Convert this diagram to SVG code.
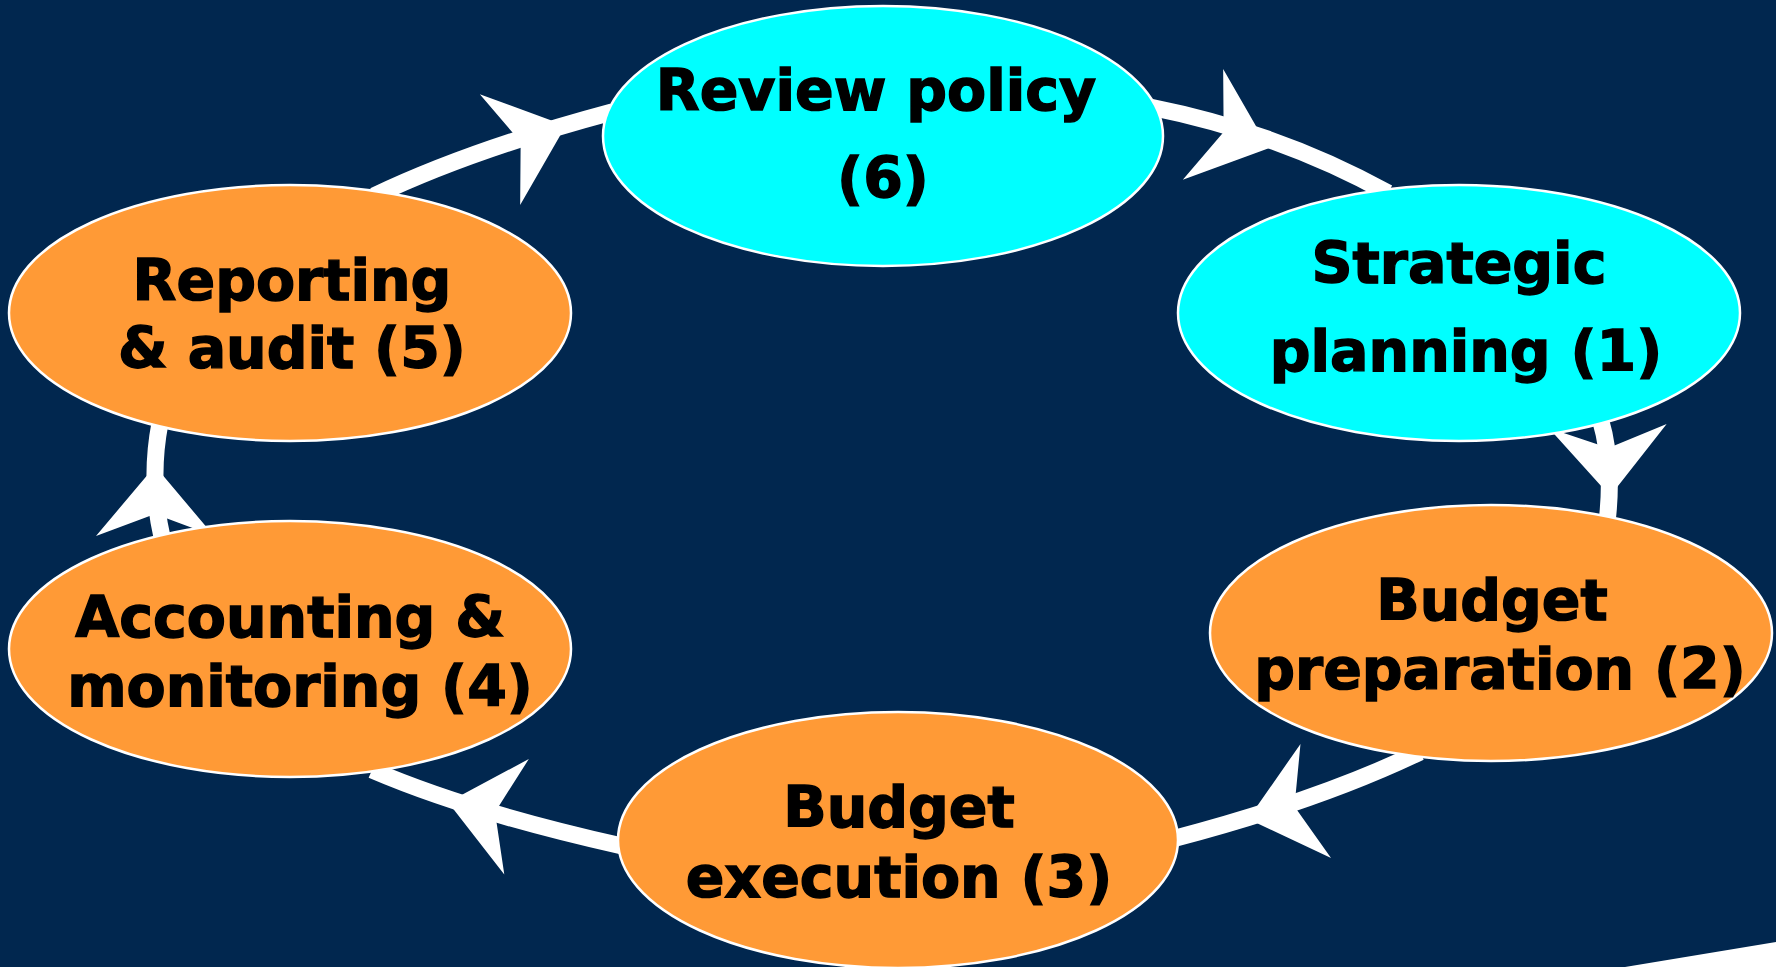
<svg xmlns="http://www.w3.org/2000/svg" xmlns:xlink="http://www.w3.org/1999/xlink" width="1776" height="967" viewBox="0 0 1776 967">
<defs>
<style>
.bg{fill:#01274f}
.conn{fill:none;stroke:#ffffff;stroke-width:17}
.head{fill:#ffffff}
.cyan{fill:#00ffff;stroke:#ffffff;stroke-width:2.5}
.orange{fill:#ff9a36;stroke:#ffffff;stroke-width:2.5}
.lbl{font-family:"DejaVu Sans",Verdana,sans-serif;font-weight:bold;font-size:57px;fill:#000000;stroke:#000000;stroke-width:1.4;text-anchor:middle}
</style>
<polygon id="ah" class="head" points="4,0 -66,-59 -44,0 -66,59"/>
</defs>
<rect class="bg" x="0" y="0" width="1776" height="967"/>
<polygon points="1625,967 1776,942 1776,967" fill="#ffffff"/>
<g id="connectors">
<path class="conn" d="M1150,107 Q1280,133 1388,193"/>
<use xlink:href="#ah" transform="translate(1265,147) rotate(20)"/>
<path class="conn" d="M1600,418 Q1614,465 1607,522"/>
<use xlink:href="#ah" transform="translate(1610,492) rotate(88)"/>
<path class="conn" d="M1420,752 Q1320,800 1176,838"/>
<use xlink:href="#ah" transform="translate(1252,818) rotate(165)"/>
<path class="conn" d="M622,846 Q470,812 372,770"/>
<use xlink:href="#ah" transform="translate(452,803) rotate(-168)"/>
<path class="conn" d="M162,537 Q149,480 160,423"/>
<use xlink:href="#ah" transform="translate(155,470) rotate(-90)"/>
<path class="conn" d="M374,196 Q470,150 612,112"/>
<use xlink:href="#ah" transform="translate(562,127) rotate(-20)"/>
</g>
<g id="node6">
<ellipse class="cyan" cx="883" cy="136" rx="280" ry="130"/>
<text class="lbl" x="876" y="110">Review policy</text>
<text class="lbl" x="883" y="198">(6)</text>
</g>
<g id="node1">
<ellipse class="cyan" cx="1459" cy="313" rx="281" ry="128"/>
<text class="lbl" x="1459" y="283">Strategic</text>
<text class="lbl" x="1466" y="371">planning (1)</text>
</g>
<g id="node2">
<ellipse class="orange" cx="1491" cy="633" rx="281" ry="128"/>
<text class="lbl" x="1492" y="620">Budget</text>
<text class="lbl" x="1500" y="689">preparation (2)</text>
</g>
<g id="node3">
<ellipse class="orange" cx="898" cy="840" rx="280" ry="128"/>
<text class="lbl" x="899" y="827">Budget</text>
<text class="lbl" x="899" y="897">execution (3)</text>
</g>
<g id="node4">
<ellipse class="orange" cx="290" cy="649" rx="281" ry="128"/>
<text class="lbl" x="290" y="637">Accounting &amp;</text>
<text class="lbl" x="300" y="706">monitoring (4)</text>
</g>
<g id="node5">
<ellipse class="orange" cx="290" cy="313" rx="281" ry="128"/>
<text class="lbl" x="292" y="300">Reporting</text>
<text class="lbl" x="292" y="368">&amp; audit (5)</text>
</g>
</svg>
